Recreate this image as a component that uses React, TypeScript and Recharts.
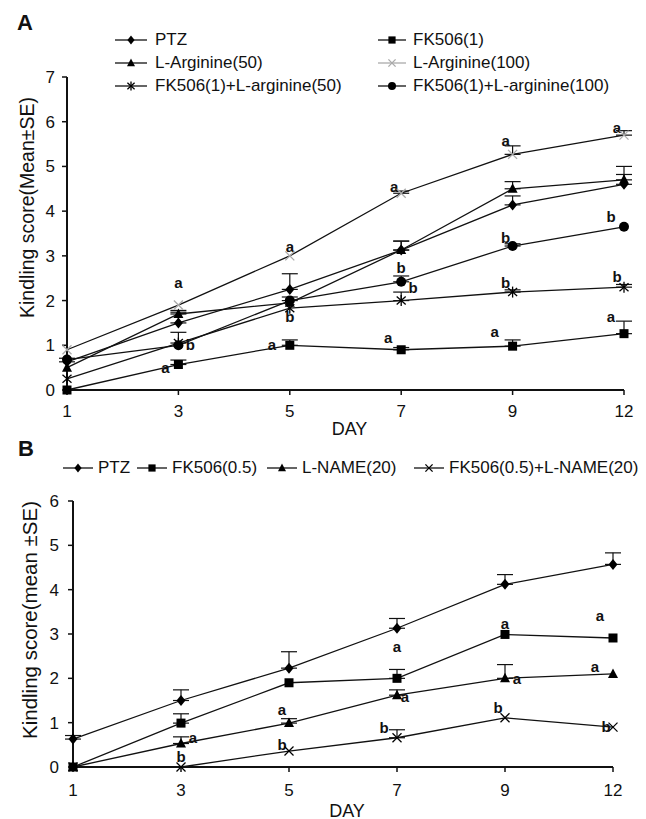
import React from "react";
import { ErrorBar, Line, LineChart, ReferenceDot, XAxis, YAxis } from "recharts";

const FONT = "'Liberation Sans', Arial, Helvetica, sans-serif";

const days = ["1", "3", "5", "7", "9", "12"];
const ticksA = [0, 1, 2, 3, 4, 5, 6, 7];
const ticksB = [0, 1, 2, 3, 4, 5, 6];

// panel A values (mean) and upper SE
const ptzA = [0.63, 1.5, 2.25, 3.13, 4.14, 4.6];
const ptzAErr = [0.08, 0.24, 0.35, 0.2, 0.2, 0.22];
const fk1 = [0, 0.57, 1.0, 0.9, 0.98, 1.26];
const fk1Err = [0, 0.1, 0.12, 0.05, 0.14, 0.28];
const larg50 = [0.5, 1.7, 1.95, 3.13, 4.5, 4.7];
const larg50Err = [0, 0.08, 0, 0.2, 0.16, 0.3];
const larg100 = [0.9, 1.9, 3.0, 4.4, 5.27, 5.7];
const larg100Err = [0, 0, 0, 0.05, 0.19, 0.1];
const fkLarg50 = [0.25, 1.05, 1.83, 2.0, 2.19, 2.3];
const fkLarg50Err = [0, 0.24, 0, 0.19, 0.05, 0.06];
const fkLarg100 = [0.68, 1.0, 2.0, 2.42, 3.22, 3.65];
const fkLarg100Err = [0, 0, 0.08, 0.13, 0.05, 0];

// panel B
const ptzB = [0.63, 1.5, 2.23, 3.13, 4.12, 4.57];
const ptzBErr = [0.08, 0.24, 0.37, 0.22, 0.22, 0.26];
const fk05 = [0, 0.99, 1.9, 2.0, 2.99, 2.91];
const fk05Err = [0, 0.21, 0, 0.2, 0, 0];
const lname = [0, 0.53, 0.99, 1.62, 2.0, 2.1];
const lnameErr = [0, 0.15, 0.1, 0.12, 0.31, 0];
const fkLname = [0, 0, 0.36, 0.66, 1.11, 0.9];
const fkLnameErr = [0, 0, 0, 0.18, 0, 0];

type Side = "c" | "nw" | "w" | "ww" | "ne" | "e";
type Note = { day: string; y: number; text: string; side: Side };

const notesA: Note[] = [
  { day: "3", y: 2.39, text: "a", side: "c" },
  { day: "3", y: 1.0, text: "b", side: "e" },
  { day: "3", y: 0.5, text: "a", side: "w" },
  { day: "5", y: 3.2, text: "a", side: "c" },
  { day: "5", y: 1.64, text: "b", side: "c" },
  { day: "5", y: 1.0, text: "a", side: "ww" },
  { day: "7", y: 4.54, text: "a", side: "nw" },
  { day: "7", y: 2.72, text: "b", side: "c" },
  { day: "7", y: 2.27, text: "b", side: "e" },
  { day: "7", y: 1.16, text: "a", side: "w" },
  { day: "9", y: 5.57, text: "a", side: "nw" },
  { day: "9", y: 3.39, text: "b", side: "nw" },
  { day: "9", y: 2.39, text: "b", side: "nw" },
  { day: "9", y: 1.29, text: "a", side: "ww" },
  { day: "12", y: 5.85, text: "a", side: "nw" },
  { day: "12", y: 3.88, text: "b", side: "w" },
  { day: "12", y: 2.53, text: "b", side: "nw" },
  { day: "12", y: 1.64, text: "a", side: "w" },
];

const notesB: Note[] = [
  { day: "3", y: 0.65, text: "a", side: "e" },
  { day: "3", y: 0.23, text: "b", side: "c" },
  { day: "5", y: 1.29, text: "a", side: "nw" },
  { day: "5", y: 0.49, text: "b", side: "nw" },
  { day: "7", y: 2.71, text: "a", side: "c" },
  { day: "7", y: 1.58, text: "a", side: "ne" },
  { day: "7", y: 0.89, text: "b", side: "w" },
  { day: "9", y: 3.22, text: "a", side: "c" },
  { day: "9", y: 1.99, text: "a", side: "e" },
  { day: "9", y: 1.32, text: "b", side: "nw" },
  { day: "12", y: 3.4, text: "a", side: "w" },
  { day: "12", y: 2.26, text: "a", side: "ww" },
  { day: "12", y: 0.9, text: "b", side: "nw" },
];

const sideDx: Record<Side, number> = { c: 0, nw: -7, w: -13, ww: -18, ne: 8, e: 12 };

type Shape = "diamond" | "square" | "triangle" | "circle" | "cross" | "asterisk";
type Series = {
  key: string;
  name: string;
  values: number[];
  errors: number[];
  shape: Shape;
  mark: string;
};

const seriesA: Series[] = [
  { key: "ptz", name: "PTZ", values: ptzA, errors: ptzAErr, shape: "diamond", mark: "#000" },
  { key: "fk1", name: "FK506(1)", values: fk1, errors: fk1Err, shape: "square", mark: "#000" },
  { key: "larg50", name: "L-Arginine(50)", values: larg50, errors: larg50Err, shape: "triangle", mark: "#000" },
  { key: "larg100", name: "L-Arginine(100)", values: larg100, errors: larg100Err, shape: "cross", mark: "#aaaaaa" },
  { key: "fkl50", name: "FK506(1)+L-arginine(50)", values: fkLarg50, errors: fkLarg50Err, shape: "asterisk", mark: "#000" },
  { key: "fkl100", name: "FK506(1)+L-arginine(100)", values: fkLarg100, errors: fkLarg100Err, shape: "circle", mark: "#000" },
];

const seriesB: Series[] = [
  { key: "ptz", name: "PTZ", values: ptzB, errors: ptzBErr, shape: "diamond", mark: "#000" },
  { key: "fk05", name: "FK506(0.5)", values: fk05, errors: fk05Err, shape: "square", mark: "#000" },
  { key: "lname", name: "L-NAME(20)", values: lname, errors: lnameErr, shape: "triangle", mark: "#000" },
  { key: "fkln", name: "FK506(0.5)+L-NAME(20)", values: fkLname, errors: fkLnameErr, shape: "cross", mark: "#000" },
];

function buildRows(series: Series[]) {
  return days.map((day, i) => {
    const row: Record<string, any> = { day };
    series.forEach((s) => {
      row[s.key] = s.values[i];
      row[s.key + "Err"] = s.errors[i] > 0 ? [0, s.errors[i]] : undefined;
    });
    return row;
  });
}

const rowsA = buildRows(seriesA);
const rowsB = buildRows(seriesB);

function mark(shape: Shape, cx: number, cy: number, s: number, color: string, key?: React.Key) {
  switch (shape) {
    case "diamond":
      return (
        <polygon
          key={key}
          points={`${cx},${cy - 5.5 * s} ${cx + 4.5 * s},${cy} ${cx},${cy + 5.5 * s} ${cx - 4.5 * s},${cy}`}
          fill={color}
        />
      );
    case "square":
      return <rect key={key} x={cx - 4.5 * s} y={cy - 4.5 * s} width={9 * s} height={9 * s} fill={color} />;
    case "triangle":
      return (
        <polygon
          key={key}
          points={`${cx},${cy - 5.5 * s} ${cx + 5 * s},${cy + 4 * s} ${cx - 5 * s},${cy + 4 * s}`}
          fill={color}
        />
      );
    case "circle":
      return <circle key={key} cx={cx} cy={cy} r={5 * s} fill={color} />;
    case "cross":
      return (
        <g key={key} stroke={color} strokeWidth={1.3}>
          <line x1={cx - 4.5 * s} y1={cy - 4.5 * s} x2={cx + 4.5 * s} y2={cy + 4.5 * s} />
          <line x1={cx - 4.5 * s} y1={cy + 4.5 * s} x2={cx + 4.5 * s} y2={cy - 4.5 * s} />
        </g>
      );
    case "asterisk":
      return (
        <g key={key} stroke={color} strokeWidth={1.3}>
          <line x1={cx - 4.5 * s} y1={cy - 4 * s} x2={cx + 4.5 * s} y2={cy + 4 * s} />
          <line x1={cx - 4.5 * s} y1={cy + 4 * s} x2={cx + 4.5 * s} y2={cy - 4 * s} />
          <line x1={cx} y1={cy - 5.5 * s} x2={cx} y2={cy + 5.5 * s} />
        </g>
      );
  }
}

function dotFor(shape: Shape, color: string) {
  return (props: any) => {
    const { cx, cy, index } = props;
    if (cx == null || cy == null) return <g key={`d${index}`} />;
    return mark(shape, cx, cy, 1, color, `d${index}`);
  };
}

function NoteText({ viewBox, text, dx }: any) {
  const x = viewBox.x + viewBox.width / 2 + dx;
  const y = viewBox.y + viewBox.height / 2 + 5;
  return (
    <text x={x} y={y} textAnchor="middle" fontFamily={FONT} fontSize={15} fontWeight="bold" fill="#111">
      {text}
    </text>
  );
}

function YTitle({ viewBox, text, dx, dy, size }: any) {
  const x = viewBox.x + dx;
  const y = viewBox.y + viewBox.height / 2 + dy;
  return (
    <text x={x} y={y} transform={`rotate(-90 ${x} ${y})`} textAnchor="middle" fontFamily={FONT} fontSize={size} fill="#111">
      {text}
    </text>
  );
}

function XTitle({ viewBox, dx, dy }: any) {
  const x = viewBox.x + viewBox.width / 2 + dx;
  const y = viewBox.y + dy;
  return (
    <text x={x} y={y} textAnchor="middle" fontFamily={FONT} fontSize={18} fill="#111">
      DAY
    </text>
  );
}

function LegendItem({ s, left, top, lineW, gap }: { s: Series; left: number; top: number; lineW: number; gap: number }) {
  const lineColor = s.mark === "#000" ? "#111" : s.mark;
  return (
    <div style={{ position: "absolute", left, top: top - 11, height: 22, display: "flex", alignItems: "center" }}>
      <svg width={lineW} height={14} style={{ marginRight: gap }}>
        <line x1={0} y1={7} x2={lineW} y2={7} stroke={lineColor} strokeWidth={1.3} />
        {mark(s.shape, lineW / 2, 7, 0.8, s.mark)}
      </svg>
      <span style={{ fontFamily: FONT, fontSize: 17, color: "#111", whiteSpace: "nowrap" }}>{s.name}</span>
    </div>
  );
}

function Panel({
  rows,
  series,
  notes,
  ticks,
  top,
  height,
  margin,
  yTitle,
  yTitleProps,
  xTitleDy,
  tickMarginX,
  tickMarginY,
}: any) {
  return (
    <div style={{ position: "absolute", left: 0, top }}>
      <LineChart width={646} height={height} data={rows} margin={margin}>
        <XAxis
          dataKey="day"
          height={50}
          axisLine={{ stroke: "#111", strokeWidth: 2 }}
          tickLine={{ stroke: "#111", strokeWidth: 1.5 }}
          tickSize={5}
          tickMargin={tickMarginX}
          tick={{ fill: "#111", fontSize: 17, fontFamily: FONT }}
          label={<XTitle dx={4} dy={xTitleDy} />}
        />
        <YAxis
          type="number"
          domain={[0, ticks[ticks.length - 1]]}
          ticks={ticks}
          width={50}
          axisLine={{ stroke: "#111", strokeWidth: 2 }}
          tickLine={{ stroke: "#111", strokeWidth: 1.5 }}
          tickSize={5}
          tickMargin={tickMarginY}
          tick={{ fill: "#111", fontSize: 17, fontFamily: FONT }}
          label={<YTitle text={yTitle} {...yTitleProps} />}
        />
        {series.map((s: Series) => (
          <Line
            key={s.key}
            dataKey={s.key}
            stroke="#111"
            strokeWidth={1.3}
            dot={dotFor(s.shape, s.mark)}
            activeDot={false}
            isAnimationActive={false}
          >
            <ErrorBar dataKey={s.key + "Err"} width={8} stroke="#111" strokeWidth={1.2} direction="y" />
          </Line>
        ))}
        {notes.map((n: Note, i: number) => (
          <ReferenceDot
            key={i}
            x={n.day}
            y={n.y}
            r={0}
            fill="none"
            stroke="none"
            label={<NoteText text={n.text} dx={sideDx[n.side]} />}
          />
        ))}
      </LineChart>
    </div>
  );
}

export default function App() {
  return (
    <div style={{ position: "absolute", left: 0, top: 0, width: 646, height: 819, background: "#fff" }}>
      <div style={{ position: "absolute", left: 17, top: 10, fontFamily: FONT, fontSize: 22, fontWeight: "bold", color: "#111" }}>
        A
      </div>
      {seriesA.map((s, i) => (
        <LegendItem
          key={s.key}
          s={s}
          left={i % 2 === 0 ? 115 : 378}
          top={40 + Math.floor(i / 2) * 23}
          lineW={i % 2 === 0 ? 32 : 28}
          gap={i % 2 === 0 ? 8 : 7}
        />
      ))}
      <Panel
        rows={rowsA}
        series={seriesA}
        notes={notesA}
        ticks={ticksA}
        top={0}
        height={440}
        margin={{ top: 77, right: 22, bottom: 0, left: 17 }}
        yTitle="Kindling score(Mean±SE)"
        yTitleProps={{ dx: 17, dy: -26, size: 19.5 }}
        xTitleDy={44.5}
        tickMarginX={10}
        tickMarginY={7}
      />
      <div style={{ position: "absolute", left: 18, top: 436, fontFamily: FONT, fontSize: 22, fontWeight: "bold", color: "#111" }}>
        B
      </div>
      {seriesB.map((s, i) => (
        <LegendItem key={s.key} s={s} left={[63, 137, 267, 414][i]} top={468} lineW={30} gap={5} />
      ))}
      <Panel
        rows={rowsB}
        series={seriesB}
        notes={notesB}
        ticks={ticksB}
        top={430}
        height={389}
        margin={{ top: 71, right: 33, bottom: 2, left: 23 }}
        yTitle="Kindling score(mean ±SE)"
        yTitleProps={{ dx: 14, dy: -14, size: 20.5 }}
        xTitleDy={49.5}
        tickMarginX={12}
        tickMarginY={9}
      />
    </div>
  );
}
